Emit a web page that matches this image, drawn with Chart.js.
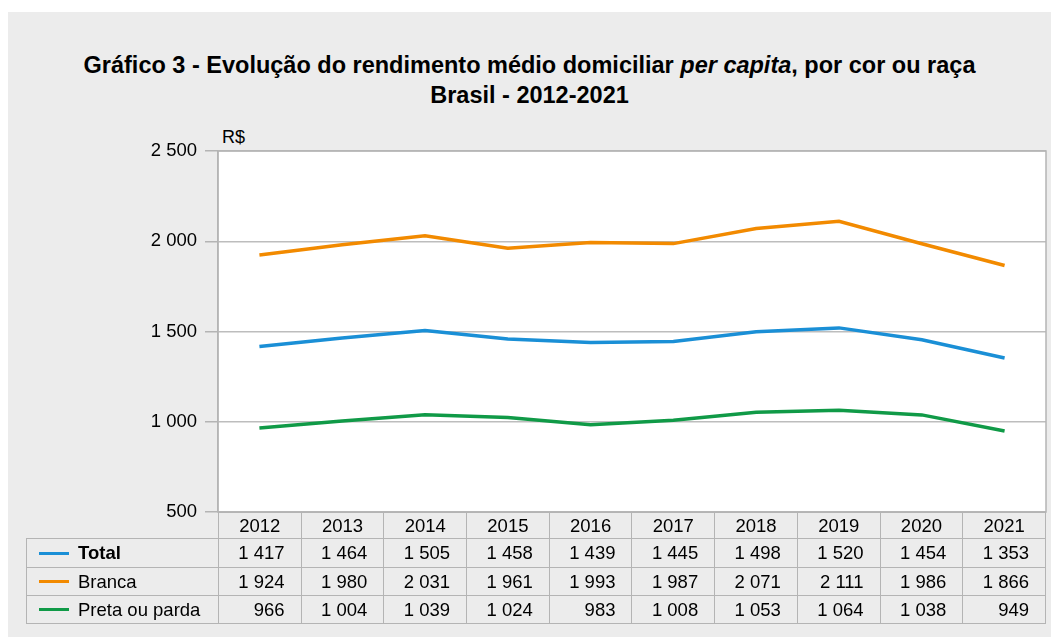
<!DOCTYPE html>
<html lang="pt-BR">
<head>
<meta charset="utf-8">
<title>Gráfico 3 - Rendimento médio domiciliar per capita</title>
<script src="https://cdn.jsdelivr.net/npm/chart.js@4.4.1/dist/chart.umd.min.js"></script>
<style>
    html, body { margin: 0; padding: 0; background: #fff; }
    body { width: 1051px; height: 637px; position: relative; overflow: hidden; font-family: "Liberation Sans", Arial, sans-serif; }
    #panel { position: absolute; left: 8px; top: 12px; right: 0; bottom: 0; background: #ececec; }
    #title { position: absolute; left: 8px; right: 0; top: 50px; text-align: center; font-weight: bold; font-size: 23.5px; line-height: 30px; color: #000; }
    #unit { position: absolute; left: 222px; top: 127px; font-size: 18px; color: #000; }
    #chart { position: absolute; left: 0; top: 0; }
    #tbl { position: absolute; border-collapse: collapse; font-size: 18.5px; color: #000; }
    #tbl td { border: 1px solid #b4b4b4; padding: 0; box-sizing: border-box; }
    #tbl td.num { text-align: right; padding-right: 16px; }
    #tbl td.yr { text-align: center; }
    #tbl td.blank { border: none; border-right: 1px solid #b4b4b4; }
    #tbl td.lbl { padding-left: 12px; white-space: nowrap; }
    .key { display: inline-block; width: 30px; height: 3px; vertical-align: middle; margin-right: 9px; position: relative; top: -1px; }
</style>
</head>
<body>
<div id="panel"></div>
<div id="title">Gráfico 3 - Evolução do rendimento médio domiciliar <i>per capita</i>, por cor ou raça<br>Brasil - 2012-2021</div>
<div id="unit">R$</div>
<canvas id="chart" width="1051" height="637"></canvas>
<table id="tbl"></table>

<script>
// ---- data (R$) ----
const years = ['2012', '2013', '2014', '2015', '2016', '2017', '2018', '2019', '2020', '2021'];
const total = [1417, 1464, 1505, 1458, 1439, 1445, 1498, 1520, 1454, 1353];
const branca = [1924, 1980, 2031, 1961, 1993, 1987, 2071, 2111, 1986, 1866];
const pretaParda = [966, 1004, 1039, 1024, 983, 1008, 1053, 1064, 1038, 949];
const yTicks = [500, 1000, 1500, 2000, 2500];

const series = [
    { name: 'Total', values: total, color: '#1a8fd6', bold: true },
    { name: 'Branca', values: branca, color: '#f28a00', bold: false },
    { name: 'Preta ou parda', values: pretaParda, color: '#109a47', bold: false }
];

// 1 417 -> thousands separated by a space
const fmt = v => String(v).replace(/\B(?=(\d{3})+(?!\d))/g, ' ');

// white plot box + frame
const plotBox = {
    id: 'plotBox',
    beforeDraw(chart) {
        const { ctx, chartArea: a } = chart;
        ctx.save();
        ctx.fillStyle = '#fff';
        ctx.fillRect(a.left, a.top, a.width, a.height);
        ctx.restore();
    },
    beforeDatasetsDraw(chart) {
        const { ctx, chartArea: a } = chart;
        ctx.save();
        ctx.strokeStyle = '#b4b4b4';
        ctx.lineWidth = 1.5;
        ctx.strokeRect(a.left, a.top, a.width, a.height);
        ctx.restore();
    }
};

const chart = new Chart(document.getElementById('chart'), {
    type: 'line',
    data: {
        labels: years,
        datasets: series.map(s => ({
            label: s.name,
            data: s.values,
            borderColor: s.color,
            backgroundColor: s.color,
            borderWidth: 3.5,
            pointRadius: 0,
            tension: 0,
            fill: false
        }))
    },
    options: {
        responsive: false,
        devicePixelRatio: 1,
        animation: false,
        layout: { padding: { left: 100, top: 151, right: 5, bottom: 125 } },
        plugins: { legend: { display: false }, title: { display: false }, tooltip: { enabled: false } },
        scales: {
            x: { type: 'category', offset: true, display: false },
            y: {
                min: 500,
                max: 2500,
                afterFit: s => { s.width = 118; },
                afterBuildTicks: s => { s.ticks = yTicks.map(v => ({ value: v })); },
                ticks: {
                    color: '#000',
                    padding: 8,
                    font: { family: '"Liberation Sans", Arial, sans-serif', size: 18.5 },
                    callback: v => fmt(v)
                },
                grid: { color: '#bdbdbd', lineWidth: 1.5, drawTicks: true, tickLength: 13, tickColor: '#b4b4b4' },
                border: { color: '#b4b4b4', width: 1.5 }
            }
        }
    },
    plugins: [plotBox]
});

// data table below, columns taken from the x scale
function buildTable() {
    const a = chart.chartArea;
    const tableLeft = 26;
    const colW = a.width / years.length;
    const tbl = document.getElementById('tbl');
    tbl.style.left = tableLeft + 'px';
    tbl.style.top = a.bottom + 'px';
    tbl.style.width = (a.right - tableLeft) + 'px';

    let html = '<colgroup><col style="width:' + (a.left - tableLeft) + 'px">';
    years.forEach(() => { html += '<col style="width:' + colW + 'px">'; });
    html += '</colgroup>';

    html += '<tr style="height:26px"><td class="blank"></td>';
    years.forEach(y => { html += '<td class="yr">' + y + '</td>'; });
    html += '</tr>';

    const heights = [29, 28, 28];
    series.forEach((s, i) => {
        html += '<tr style="height:' + heights[i] + 'px"><td class="lbl"><span class="key" style="background:' + s.color + '"></span>' +
            (s.bold ? '<b>' + s.name + '</b>' : s.name) + '</td>';
        s.values.forEach(v => { html += '<td class="num">' + fmt(v) + '</td>'; });
        html += '</tr>';
    });
    tbl.innerHTML = html;
}
buildTable();
</script>
</body>
</html>
